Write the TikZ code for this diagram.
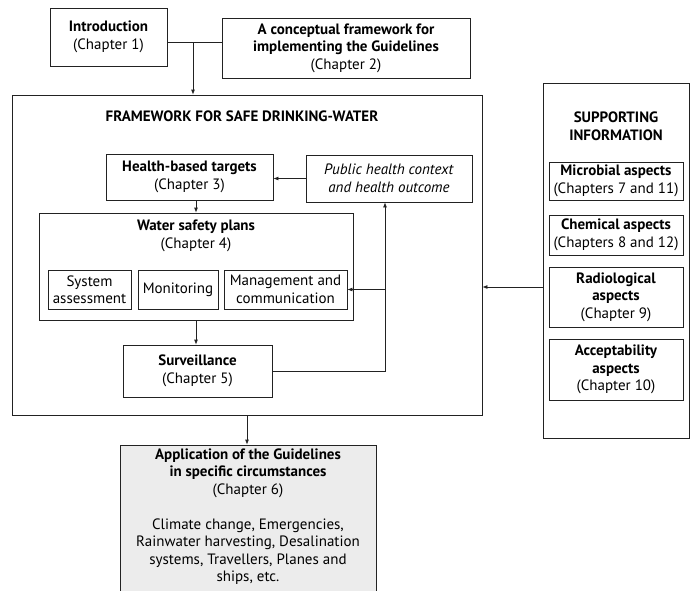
\documentclass[tikz,border=0pt]{standalone}
\usepackage{fontspec}
\setmainfont{PT Sans}
\usetikzlibrary{arrows.meta}
\definecolor{appgrey}{HTML}{ECECEC}
\definecolor{linegrey}{HTML}{222222}
\tikzset{box/.style={draw=linegrey, rectangle, align=center, inner sep=1pt},
	txt/.style={align=center, inner sep=0pt},
	link/.style={draw=linegrey, -{Latex[length=5pt,width=4pt]}}}

\begin{document}
\begin{tikzpicture}
	[x=1pt, y=-1pt, line width=0.8pt,
	every node/.style={font=\fontsize{15}{17.5}\selectfont}]
	\clip (0,0) rectangle (693,590);
	% top row
	\node [box, minimum width=117pt, minimum height=58pt] (intro) at (108.5,37)
		{\textbf{Introduction}\\(Chapter 1)};
	\node [box, minimum width=248pt, minimum height=60pt] (concept) at (346,48)
		{\textbf{A conceptual framework for}\\\textbf{implementing the Guidelines}\\(Chapter 2)};
	\coordinate (join) at (193,42);
	% framework
	\node [box, minimum width=470pt, minimum height=320pt] (frame) at (247,255) {};
	\node [txt] (frametitle) at (242,116) {\textbf{FRAMEWORK FOR SAFE DRINKING-WATER}};
	\node [box, minimum width=167pt, minimum height=46pt] (hbt) at (189.5,177)
		{\textbf{Health-based targets}\\(Chapter 3)};
	\node [box, minimum width=166pt, minimum height=47pt] (public) at (389,178.5)
		{\textit{Public health context}\\\textit{and health outcome}};
	\node [box, minimum width=314pt, minimum height=107pt] (wsp) at (196,266.5) {};
	\node [txt] (wsptitle) at (196,236) {\textbf{Water safety plans}\\(Chapter 4)};
	\node [box, minimum width=83pt, minimum height=39pt] (sysass) at (89.5,289.5)
		{System\\assessment};
	\node [box, minimum width=80pt, minimum height=39pt] (monit) at (178,289.5)
		{Monitoring};
	\node [box, minimum width=123pt, minimum height=39pt] (mgmt) at (285.5,289.5)
		{Management and\\communication};
	\node [box, minimum width=149pt, minimum height=52pt] (surv) at (197.5,371)
		{\textbf{Surveillance}\\(Chapter 5)};
	\coordinate (loop) at (385,371);
	% supporting information
	\node [box, minimum width=146pt, minimum height=355pt] (supp) at (616,260.5) {};
	\node [txt] (supptitle) at (616,126) {\textbf{SUPPORTING}\\\textbf{INFORMATION}};
	\node [box, minimum width=134pt, minimum height=38pt] (micro) at (616,181)
		{\textbf{Microbial aspects}\\(Chapters 7 and 11)};
	\node [box, minimum width=134pt, minimum height=40pt] (chem) at (616,235)
		{\textbf{Chemical aspects}\\(Chapters 8 and 12)};
	\node [box, minimum width=134pt, minimum height=60pt] (radio) at (616,297)
		{\textbf{Radiological}\\\textbf{aspects}\\(Chapter 9)};
	\node [box, minimum width=134pt, minimum height=61pt] (accept) at (616,369.5)
		{\textbf{Acceptability}\\\textbf{aspects}\\(Chapter 10)};
	\coordinate (suppin) at (543,287);
	% application
	\node [box, fill=appgrey, minimum width=256pt, minimum height=174pt] (app) at (248,532) {};
	\node [txt, anchor=north] (apptext) at (248,448)
		{\textbf{Application of the Guidelines}\\\textbf{in specific circumstances}\\(Chapter 6)\\[17.5pt]
		Climate change, Emergencies,\\Rainwater harvesting, Desalination\\systems, Travellers, Planes and\\ships, etc.};
	% connectors
	\draw [draw=linegrey] (intro.east |- join) -- (concept.west |- join);
	\draw [link] (join) -- (join |- frame.north);
	\draw [link] (public.west) -- (hbt.east |- public.west);
	\draw [link] (hbt.south -| wsp.north) -- (wsp.north);
	\draw [link] (wsp.south) -- (wsp.south |- surv.north);
	\draw [link] (surv.east) -- (loop) -- (loop |- public.south);
	\draw [link] (loop |- mgmt.east) -- (mgmt.east);
	\draw [link] (suppin) -- (suppin -| frame.east);
	\draw [link] (frame.south) -- (frame.south |- app.north);
\end{tikzpicture}
\end{document}
